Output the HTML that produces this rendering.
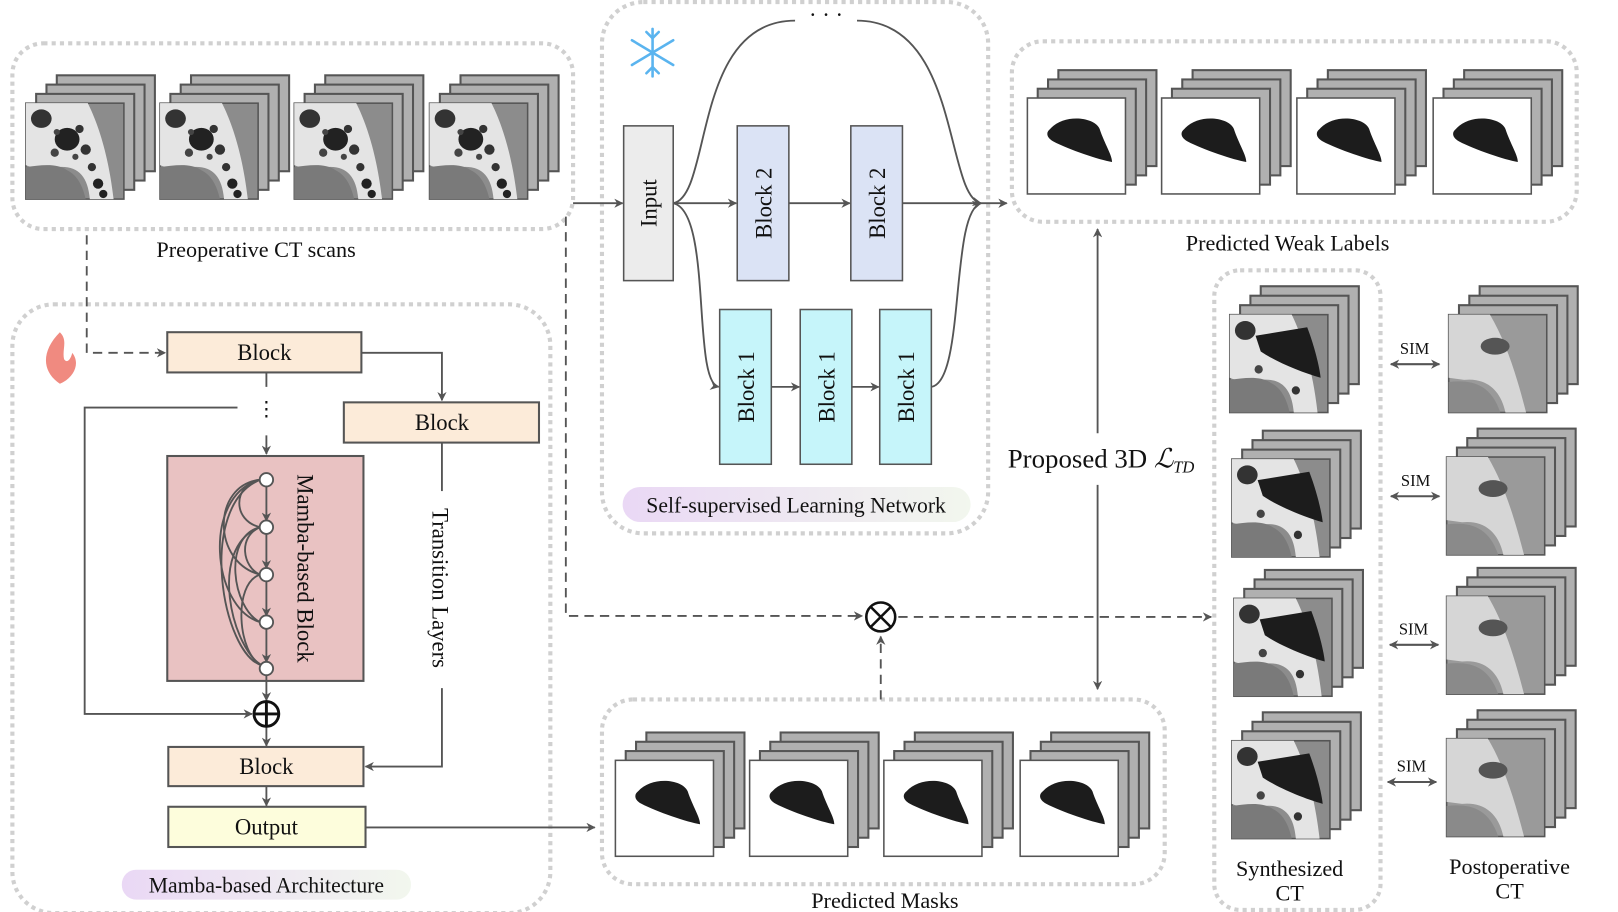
<!DOCTYPE html>
<html><head><meta charset="utf-8"><style>
html,body{margin:0;padding:0;background:#fff;}
svg{display:block;}
text{font-family:"Liberation Serif",serif;fill:#111;}
</style></head><body>
<svg width="1618" height="912" viewBox="0 0 1567 884" preserveAspectRatio="none" xmlns="http://www.w3.org/2000/svg">
<defs>
<marker id="ah" viewBox="0 0 10 10" refX="9" refY="5" markerWidth="9" markerHeight="9" orient="auto-start-reverse" markerUnits="userSpaceOnUse"><path d="M0,0 L10,5 L0,10 L3,5 z" fill="#555"/></marker>
<linearGradient id="pill1" x1="0" x2="1"><stop offset="0" stop-color="#ead8f5"/><stop offset="1" stop-color="#f2f7ee"/></linearGradient>
<g id="back">
<rect x="30" y="-27" width="95" height="93" fill="#b0b0b0" stroke="#555" stroke-width="2"/>
<rect x="20" y="-18" width="95" height="93" fill="#b0b0b0" stroke="#555" stroke-width="2"/>
<rect x="10" y="-9" width="95" height="93" fill="#b0b0b0" stroke="#555" stroke-width="2"/>
</g>
<g id="ct">
<use href="#back"/>
<rect x="0" y="0" width="95" height="93" fill="#8c8c8c" stroke="#555" stroke-width="1.5"/>
<path d="M0,0 L60,0 C70,20 80,50 85,93 L62,93 C60,70 50,60 30,62 C20,60 10,65 0,60 Z" fill="#e4e4e4"/>
<path d="M0,62 C15,60 30,58 40,65 C50,70 55,80 58,93 L0,93 Z" fill="#7a7a7a"/>
<ellipse cx="40" cy="35" rx="12" ry="11" fill="#222"/>
<ellipse cx="15" cy="15" rx="10" ry="9" fill="#333"/>
<circle cx="58" cy="45" r="5" fill="#333"/><circle cx="64" cy="62" r="4" fill="#333"/><circle cx="70" cy="78" r="5" fill="#222"/><circle cx="28" cy="48" r="4" fill="#444"/><circle cx="52" cy="25" r="4" fill="#333"/>
<circle cx="48" cy="52" r="3" fill="#444"/><circle cx="30" cy="28" r="3" fill="#444"/><circle cx="75" cy="88" r="4" fill="#222"/>
</g>
<g id="mask">
<use href="#back"/>
<rect x="0" y="0" width="95" height="93" fill="#fff" stroke="#555" stroke-width="1.5"/>
<path d="M22,30 C35,15 65,18 70,30 C75,45 82,55 82,62 C70,60 40,50 25,42 C18,38 18,33 22,30 Z" fill="#1c1c1c"/>
</g>
<g id="syn">
<use href="#back"/>
<rect x="0" y="0" width="95" height="93" fill="#8c8c8c" stroke="#555" stroke-width="1.5"/>
<path d="M0,0 L60,0 C70,20 80,50 85,93 L62,93 C60,70 50,60 30,62 C20,60 10,65 0,60 Z" fill="#e4e4e4"/>
<path d="M0,62 C15,60 30,58 40,65 C50,70 55,80 58,93 L0,93 Z" fill="#7a7a7a"/>
<ellipse cx="15" cy="15" rx="10" ry="9" fill="#333"/><circle cx="64" cy="72" r="4" fill="#333"/><circle cx="28" cy="52" r="4" fill="#444"/>
<path d="M25,20 L75,12 C82,30 87,50 88,60 C70,55 45,45 30,35 Z" fill="#1c1c1c"/>
</g>
<g id="post">
<use href="#back"/>
<rect x="0" y="0" width="95" height="93" fill="#9a9a9a" stroke="#555" stroke-width="1.5"/>
<path d="M0,0 L40,0 C55,25 65,55 75,93 L55,93 C50,70 35,60 15,62 L0,60 Z" fill="#d6d6d6"/>
<path d="M0,64 C20,62 40,64 50,93 L0,93 Z" fill="#8a8a8a"/>
<ellipse cx="45" cy="30" rx="14" ry="8" fill="#555"/>
</g>
</defs>

<g fill="none" stroke="#d0d0d0" stroke-width="4" stroke-dasharray="4,4">
<rect x="12" y="42" width="543" height="180" rx="30"/>
<rect x="583" y="2" width="374" height="515" rx="40"/>
<rect x="980" y="40" width="547" height="175" rx="30"/>
<rect x="12" y="295" width="521" height="590" rx="40"/>
<rect x="583" y="678" width="545" height="179" rx="30"/>
<rect x="1176" y="262" width="161" height="620" rx="25"/>
</g>

<use href="#ct" x="25" y="100"/><use href="#ct" x="155" y="100"/><use href="#ct" x="285" y="100"/><use href="#ct" x="416" y="100"/>
<text x="248" y="249" font-size="21.5" text-anchor="middle">Preoperative CT scans</text>

<use href="#mask" x="995" y="95"/><use href="#mask" x="1125" y="95"/><use href="#mask" x="1256" y="95"/><use href="#mask" x="1388" y="95"/>
<text x="1247" y="243" font-size="21.5" text-anchor="middle">Predicted Weak Labels</text>

<use href="#mask" x="596" y="737"/><use href="#mask" x="726" y="737"/><use href="#mask" x="856" y="737"/><use href="#mask" x="988" y="737"/>
<text x="857" y="880" font-size="21.5" text-anchor="middle">Predicted Masks</text>

<g transform="translate(1191,305) scale(1,1.02)"><use href="#syn"/></g>
<g transform="translate(1193,445) scale(1,1.02)"><use href="#syn"/></g>
<g transform="translate(1195,580) scale(1,1.02)"><use href="#syn"/></g>
<g transform="translate(1193,718) scale(1,1.02)"><use href="#syn"/></g>
<g transform="translate(1403,305) scale(1,1.02)"><use href="#post"/></g>
<g transform="translate(1401,443) scale(1,1.02)"><use href="#post"/></g>
<g transform="translate(1401,578) scale(1,1.02)"><use href="#post"/></g>
<g transform="translate(1401,716) scale(1,1.02)"><use href="#post"/></g>
<g stroke="#555" stroke-width="2" fill="none" marker-start="url(#ah)" marker-end="url(#ah)">
<line x1="1347" y1="353" x2="1394" y2="353"/><line x1="1347" y1="481" x2="1394" y2="481"/><line x1="1346" y1="625" x2="1393" y2="625"/><line x1="1344" y1="758" x2="1391" y2="758"/>
</g>
<g font-size="16" text-anchor="middle"><text x="1370" y="343">SIM</text><text x="1371" y="471">SIM</text><text x="1369" y="615">SIM</text><text x="1367" y="748">SIM</text></g>
<g font-size="21.5" text-anchor="middle"><text x="1249" y="849">Synthesized</text><text x="1249" y="873">CT</text><text x="1462" y="847">Postoperative</text><text x="1462" y="871">CT</text></g>

<g stroke="#5ab4ef" stroke-width="2.5" fill="none" stroke-linecap="round">
<line x1="632" y1="28" x2="632" y2="74"/><line x1="612" y1="39" x2="652" y2="63"/><line x1="612" y1="63" x2="652" y2="39"/>
<path d="M626,31 L632,37 L638,31 M626,71 L632,65 L638,71"/>
</g>

<rect x="604" y="122" width="48" height="150" fill="#ececec" stroke="#555" stroke-width="1.5"/>
<rect x="714" y="122" width="50" height="150" fill="#dbe3f5" stroke="#555" stroke-width="1.5"/>
<rect x="824" y="122" width="50" height="150" fill="#dbe3f5" stroke="#555" stroke-width="1.5"/>
<rect x="697" y="300" width="50" height="150" fill="#c6f5fa" stroke="#555" stroke-width="1.5"/>
<rect x="775" y="300" width="50" height="150" fill="#c6f5fa" stroke="#555" stroke-width="1.5"/>
<rect x="852" y="300" width="50" height="150" fill="#c6f5fa" stroke="#555" stroke-width="1.5"/>
<g font-size="22" text-anchor="middle">
<text transform="translate(636,197) rotate(-90)">Input</text>
<text transform="translate(747,197) rotate(-90)">Block 2</text>
<text transform="translate(857,197) rotate(-90)">Block 2</text>
<text transform="translate(730,375) rotate(-90)">Block 1</text>
<text transform="translate(808,375) rotate(-90)">Block 1</text>
<text transform="translate(885,375) rotate(-90)">Block 1</text>
</g>
<g stroke="#555" stroke-width="1.8" fill="none">
<line x1="652" y1="197" x2="713" y2="197" marker-end="url(#ah)"/>
<line x1="764" y1="197" x2="823" y2="197" marker-end="url(#ah)"/>
<line x1="874" y1="197" x2="975" y2="197" marker-end="url(#ah)"/>
<path d="M652,197 C690,190 670,20 770,20"/>
<path d="M830,20 C930,20 915,190 950,197" marker-end="url(#ah)"/>
<path d="M652,197 C690,205 670,370 696,375" marker-end="url(#ah)"/>
<line x1="747" y1="375" x2="774" y2="375" marker-end="url(#ah)"/>
<line x1="825" y1="375" x2="851" y2="375" marker-end="url(#ah)"/>
<path d="M902,375 C935,370 920,205 950,197" marker-end="url(#ah)"/>
<line x1="555" y1="197" x2="603" y2="197" marker-end="url(#ah)"/>
</g>
<text x="800" y="22" font-size="22" text-anchor="middle">· · ·</text>
<rect x="603" y="472" width="337" height="34" rx="17" fill="url(#pill1)"/>
<text x="771" y="497" font-size="21" text-anchor="middle">Self-supervised Learning Network</text>

<g stroke="#555" stroke-width="1.8" fill="none">
<line x1="1063" y1="222" x2="1063" y2="420" marker-start="url(#ah)"/>
<line x1="1063" y1="470" x2="1063" y2="668" marker-end="url(#ah)"/>
</g>
<text x="976" y="453" font-size="26">Proposed 3D <tspan font-style="italic">ℒ</tspan><tspan font-size="16" font-style="italic" dy="5">TD</tspan></text>

<g stroke="#555" stroke-width="1.8" fill="none" stroke-dasharray="9,6">
<polyline points="548,210 548,597 835,597" marker-end="url(#ah)"/>
<line x1="870" y1="598" x2="1173" y2="598" marker-end="url(#ah)"/>
<line x1="853" y1="678" x2="853" y2="617" marker-end="url(#ah)"/>
<polyline points="84,228 84,342 160,342" marker-end="url(#ah)"/>
</g>
<circle cx="853" cy="598" r="14" fill="#fff" stroke="#111" stroke-width="2.5"/>
<path d="M843,588 L863,608 M863,588 L843,608" stroke="#111" stroke-width="2.5"/>

<path d="M58,322 C40,340 40,360 58,372 C72,366 78,352 70,342 C68,350 64,352 62,348 C60,338 66,330 58,322 Z" fill="#f08a80"/>
<rect x="162" y="322" width="188" height="39" fill="#fcebd9" stroke="#555" stroke-width="2"/>
<rect x="333" y="390" width="189" height="39" fill="#fcebd9" stroke="#555" stroke-width="2"/>
<rect x="163" y="724" width="189" height="38" fill="#fcebd9" stroke="#555" stroke-width="2"/>
<rect x="163" y="782" width="191" height="39" fill="#fdfddc" stroke="#555" stroke-width="2"/>
<rect x="162" y="442" width="190" height="218" fill="#e9c2c2" stroke="#555" stroke-width="2"/>
<g font-size="22" text-anchor="middle">
<text x="256" y="349">Block</text><text x="428" y="417">Block</text><text x="258" y="750">Block</text><text x="258" y="809">Output</text>
<text transform="translate(288,551) rotate(90)">Mamba-based Block</text>
<text transform="translate(419,570) rotate(90)">Transition Layers</text>
</g>
<g stroke="#555" stroke-width="1.8" fill="none">
<polyline points="350,342 428,342 428,388" marker-end="url(#ah)"/>
<line x1="428" y1="429" x2="428" y2="476"/>
<polyline points="428,667 428,743 354,743" marker-end="url(#ah)"/>
<line x1="258" y1="361" x2="258" y2="375"/>
<line x1="258" y1="422" x2="258" y2="440" marker-end="url(#ah)"/>
<polyline points="230,395 82,395 82,692 244,692" marker-end="url(#ah)"/>
<line x1="258" y1="654" x2="258" y2="679" marker-end="url(#ah)"/>
<line x1="258" y1="705" x2="258" y2="723" marker-end="url(#ah)"/>
<line x1="258" y1="762" x2="258" y2="781" marker-end="url(#ah)"/>
<line x1="354" y1="802" x2="576" y2="802" marker-end="url(#ah)"/>
<line x1="258" y1="471" x2="258" y2="505" marker-end="url(#ah)"/>
<line x1="258" y1="517" x2="258" y2="551" marker-end="url(#ah)"/>
<line x1="258" y1="563" x2="258" y2="597" marker-end="url(#ah)"/>
<line x1="258" y1="609" x2="258" y2="642" marker-end="url(#ah)"/>
<path d="M252,465 C225,470 225,505 252,511"/>
<path d="M252,465 C205,470 205,545 252,557"/>
<path d="M252,465 C195,480 205,590 252,603"/>
<path d="M252,465 C190,490 215,635 254,645"/>
<path d="M252,511 C215,520 225,590 252,603"/>
<path d="M252,511 C200,530 225,630 254,645"/>
<path d="M252,557 C225,565 230,635 254,645"/>
<path d="M252,511 C230,520 235,550 252,557"/>
</g>
<text x="258" y="403" font-size="20" text-anchor="middle">⋮</text>
<g fill="#fff" stroke="#555" stroke-width="1.8">
<circle cx="258" cy="465" r="6.5"/><circle cx="258" cy="511" r="6.5"/><circle cx="258" cy="557" r="6.5"/><circle cx="258" cy="603" r="6.5"/><circle cx="258" cy="648" r="6.5"/>
</g>
<circle cx="258" cy="692" r="12" fill="#fff" stroke="#111" stroke-width="2.8"/>
<path d="M246,692 H270 M258,680 V704" stroke="#111" stroke-width="2.8"/>
<rect x="118" y="843" width="280" height="29" rx="14" fill="url(#pill1)"/>
<text x="258" y="865" font-size="21" text-anchor="middle">Mamba-based Architecture</text>
</svg>
</body></html>
